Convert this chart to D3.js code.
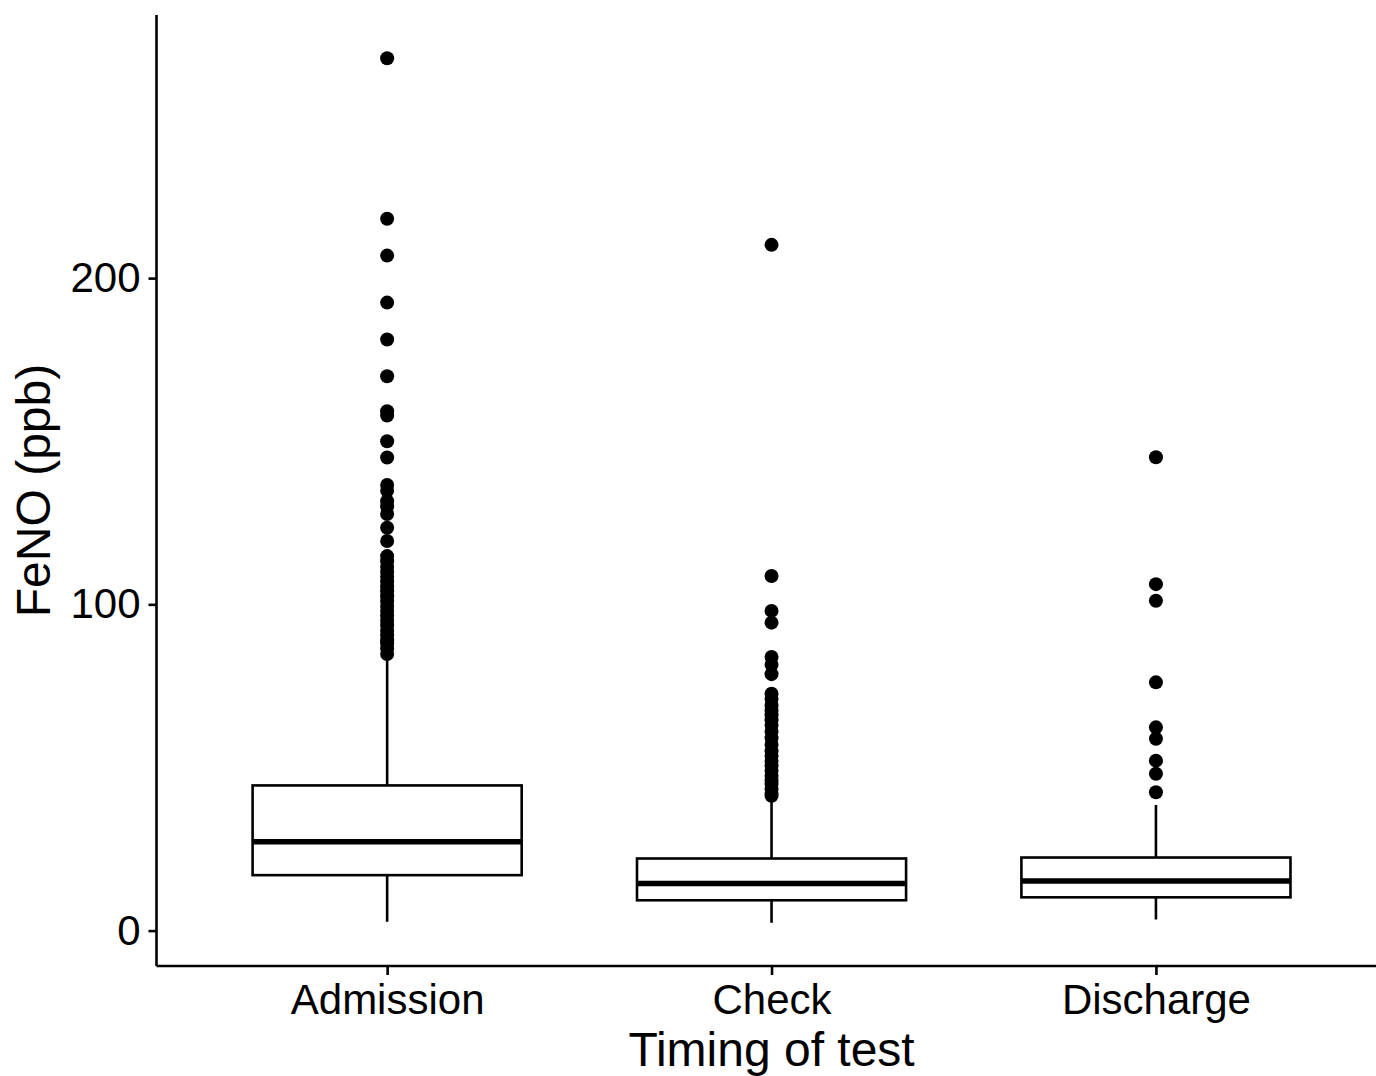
<!DOCTYPE html>
<html>
<head>
<meta charset="utf-8">
<script src="https://cdn.jsdelivr.net/npm/d3@7"></script>
<style>
  html, body { margin: 0; padding: 0; background: #fff; }
  svg { display: block; }
  text { font-family: "Liberation Sans", Arial, Helvetica, sans-serif; fill: #000; }
</style>
</head>
<body>
<svg id="chart" width="1376" height="1076"></svg>
<script>
// ---- data ----
const categories = ["Admission", "Check", "Discharge"];
const whiskerLow  = [2.7, 2.4, 3.4];
const q1          = [17.0, 9.3, 10.2];
const median      = [27.2, 14.4, 15.2];
const q3          = [44.5, 22.1, 22.4];
const whiskerHigh = [84.0, 40.0, 38.5];

const outliersAdmission = [267.4, 218.2, 206.9, 192.5, 181.2, 169.9, 159.2, 157.9, 150.0, 145.0,
  136.6, 134.8, 131.6, 130.0, 127.7, 123.5, 119.4, 114.8, 113.2, 111.5, 110.0, 108.5, 107.0,
  105.5, 104.0, 102.5, 101.0, 99.5, 98.0, 96.5, 95.0, 93.5, 91.9, 90.5, 89.0, 88.0, 86.5, 84.8];
const outliersCheck = [210.2, 108.7, 98.0, 94.4, 83.9, 81.5, 78.6, 72.6, 71.0, 69.0, 67.5, 66.0,
  64.5, 63.0, 61.0, 59.0, 57.0, 55.0, 53.5, 52.0, 50.5, 49.0, 47.5, 46.0, 45.0, 43.5, 42.0, 41.3];
const outliersDischarge = [145.1, 106.2, 101.1, 76.1, 62.3, 58.8, 52.1, 48.1, 42.4];
const outliers = [outliersAdmission, outliersCheck, outliersDischarge];

const yTicks = [0, 100, 200];
const xTitle = "Timing of test";
const yTitle = "FeNO (ppb)";

(function () {
// ---- layout ----
const W = 1376, H = 1076;
const mLeft = 156.5, mTop = 15, mBottom = 966;
const step = 384.4;
const svg = d3.select("#chart");
svg.append("rect").attr("width", W).attr("height", H).attr("fill", "#fff");

// y domain with ggplot-like 5% expansion
const allVals = whiskerLow.concat(whiskerHigh, outliers.flat());
const dmin = d3.min(allVals), dmax = d3.max(allVals);
const pad = (dmax - dmin) * 0.05;
const y = d3.scaleLinear().domain([dmin - pad, dmax + pad]).range([mBottom, mTop]);

const x = d3.scalePoint().domain(categories)
  .range([mLeft, mLeft + step * 3.2]).padding(0.6);

const boxW = step * 0.7;
const lw = 2.6;

const boxes = categories.map((c, i) => ({
  c, lo: whiskerLow[i], q1: q1[i], med: median[i], q3: q3[i], hi: whiskerHigh[i], out: outliers[i]
}));

const g = svg.append("g");
const bg = g.selectAll("g.box").data(boxes).enter().append("g").attr("class", "box");

// whiskers
bg.append("line")
  .attr("x1", d => x(d.c)).attr("x2", d => x(d.c))
  .attr("y1", d => y(d.q3)).attr("y2", d => y(d.hi))
  .attr("stroke", "#000").attr("stroke-width", lw);
bg.append("line")
  .attr("x1", d => x(d.c)).attr("x2", d => x(d.c))
  .attr("y1", d => y(d.q1)).attr("y2", d => y(d.lo))
  .attr("stroke", "#000").attr("stroke-width", lw);
// box
bg.append("rect")
  .attr("x", d => x(d.c) - boxW / 2).attr("width", boxW)
  .attr("y", d => y(d.q3)).attr("height", d => y(d.q1) - y(d.q3))
  .attr("fill", "#fff").attr("stroke", "#000").attr("stroke-width", lw);
// median
bg.append("line")
  .attr("x1", d => x(d.c) - boxW / 2).attr("x2", d => x(d.c) + boxW / 2)
  .attr("y1", d => y(d.med)).attr("y2", d => y(d.med))
  .attr("stroke", "#000").attr("stroke-width", 5.5);
// outliers
bg.selectAll("circle").data(d => d.out.map(v => ({ c: d.c, v })))
  .enter().append("circle")
  .attr("cx", d => x(d.c)).attr("cy", d => y(d.v)).attr("r", 7).attr("fill", "#000");

// axes
const yAxis = svg.append("g").attr("transform", `translate(${mLeft},0)`)
  .call(d3.axisLeft(y).tickValues(yTicks).tickSize(8).tickPadding(8).tickSizeOuter(0));
const xAxis = svg.append("g").attr("transform", `translate(0,${mBottom})`)
  .call(d3.axisBottom(x).tickSize(9).tickPadding(9).tickSizeOuter(0));

[yAxis, xAxis].forEach(a => {
  a.select(".domain").attr("stroke", "#000").attr("stroke-width", lw);
  a.selectAll(".tick line").attr("stroke", "#000").attr("stroke-width", lw);
  a.selectAll(".tick text").attr("fill", "#000").style("font-size", "42px")
    .style("font-family", '"Liberation Sans", Arial, Helvetica, sans-serif');
});
yAxis.select(".domain").attr("d", `M0,${mTop}V${mBottom}`);
xAxis.select(".domain").attr("d", `M${mLeft},0H${W + 20}`);

// titles
svg.append("text").attr("x", (mLeft + mLeft + step * 3.2) / 2).attr("y", 1066)
  .attr("text-anchor", "middle").style("font-size", "48px").text(xTitle);
svg.append("text")
  .attr("transform", `translate(50,${(mTop + mBottom) / 2}) rotate(-90)`)
  .attr("text-anchor", "middle").style("font-size", "48px").text(yTitle);
})();
</script>
</body>
</html>
